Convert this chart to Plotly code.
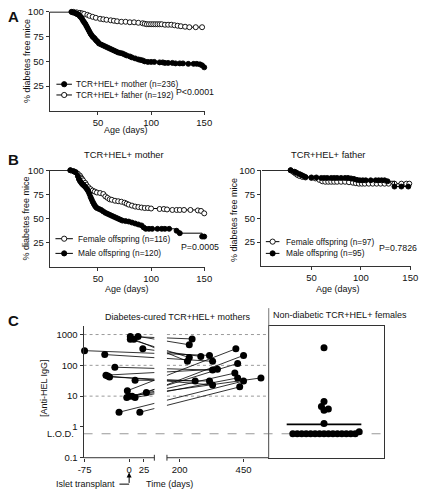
import numpy as np
import plotly.graph_objects as go

W, H = 427, 495
FONT = "Liberation Sans, Arial, Helvetica, sans-serif"
INK = "#111111"
AXC = "#333333"

# ---------------- Panel A: offspring of TCR+HEL+ mothers vs fathers (Kaplan-Meier, % diabetes free)
a_mother_days = [25, 26, 28, 29, 30, 31, 32, 33, 34, 35, 36, 37, 38, 39, 40, 41, 42, 43, 44, 45, 46, 47, 48, 49, 50, 51,
                 53, 55, 57, 59, 61, 63, 65, 67, 69, 71, 73, 75, 77, 80, 82, 85, 88, 90, 92, 94, 97,
                 100, 103, 108, 111, 113, 116, 120, 123, 127, 130, 135, 140, 143, 146, 148, 150]
a_mother_surv = [100, 99.5, 99, 98.5, 98, 97.5, 97, 95.5, 94.5, 93, 91, 89.5, 88, 86, 84, 82, 80, 78, 76.5, 75, 74, 73, 71.5, 70.5, 69.5, 68,
                 67, 66, 65, 64, 63, 62, 61, 60, 59, 58.5, 58, 57, 56, 55, 54, 53, 52, 51.5, 51, 50, 49.5,
                 49.5, 49.5, 49, 49, 48.5, 48.5, 48.5, 48, 48, 48, 47.5, 47.5, 47.5, 47, 46, 44]
a_father_days = [27, 30, 33, 35, 37, 40, 42, 45, 48, 52, 55, 58, 62, 65, 68, 72, 76, 80, 84, 88, 92, 94, 96, 98, 100,
                 102, 104, 106, 108, 110, 113, 116, 119, 122, 125, 128, 132, 136, 142, 148]
a_father_surv = [100, 99.5, 99, 98.5, 98, 97, 96, 95, 94, 93, 92.5, 92, 91.5, 91, 90.5, 90, 90, 89.5, 89.5, 89, 88.5, 88, 87.5, 87.5, 87.5,
                 87.5, 87.5, 87.5, 87.5, 87.5, 87, 87, 87, 86.5, 86, 85.5, 85, 84.5, 84.5, 84.5]

# ---------------- Panel B left: TCR+HEL+ mother, female vs male offspring
bm_female_days = [24, 27, 29, 31, 33, 34, 35, 36, 38, 39, 41, 43, 45, 47, 49, 52, 55, 57, 59, 61, 63, 66, 69, 72, 75, 77, 79, 82, 85, 88,
                  91, 94, 97, 100, 108, 112, 115, 120, 124, 127, 131, 137, 144, 147, 150]
bm_female_surv = [100, 99, 98, 96.5, 94.5, 92.5, 91, 89.5, 87, 85, 82.5, 80.5, 79, 78, 77, 76.5, 75.5, 73, 71.5, 70, 69.5, 68.5, 68, 67.5, 66.5, 65.5, 64.5, 63.5, 62.5, 62,
                  61.5, 61, 61, 60.5, 60, 60, 59.5, 59, 59, 59, 59, 59, 58.5, 58, 55.5]
bm_male_days = [24, 27, 29, 31, 32, 33, 34, 35, 36, 37, 38, 39, 40, 41, 42, 43, 44, 45, 46, 47, 48, 49, 51, 53, 55, 57, 59, 61, 63, 65,
                67, 69, 71, 73, 76, 79, 82, 85, 88, 91, 93, 95, 98, 101, 106, 110, 113, 117, 124, 127, 148, 150]
bm_male_surv = [100, 99, 98, 94, 91, 89, 87.5, 86, 85, 84, 83, 81.5, 80, 78, 75.5, 72.5, 70, 67.5, 65.5, 63.5, 62, 61, 60, 59, 57.5, 56, 55, 54, 53, 52,
                51, 50, 49, 48, 47.5, 47, 46, 45, 44, 43, 41, 39.5, 39.5, 39.5, 39.5, 39.5, 39.5, 39.5, 37.5, 35, 31.5, 31.5]

# ---------------- Panel B right: TCR+HEL+ father, female vs male offspring
bf_female_days = [29, 32, 34, 36, 38, 41, 44, 50, 54, 58, 61, 64, 67, 70, 73, 76, 80, 84, 88, 92, 95, 98, 101, 104, 108, 112, 116, 120, 124, 128,
                  134, 141, 146, 149]
bf_female_surv = [100, 98, 96.5, 95, 94, 93, 92.5, 92, 91.5, 90, 88.5, 88, 88, 88, 88, 88, 88, 88, 87.5, 87, 86.5, 86, 86, 86, 86, 86, 86, 86, 86, 86,
                  86, 86, 86, 86]
bf_male_days = [29, 33, 35, 38, 40, 42, 44, 50, 55, 60, 63, 66, 70, 73, 76, 80, 84, 87, 90, 93, 96, 99, 102, 105, 110, 115, 118, 121, 124, 127,
                134, 141, 148]
bf_male_surv = [100, 98.5, 97.5, 96, 95, 94, 93, 92.5, 92.5, 92, 92, 92, 92, 92, 92, 92, 92, 92, 91.5, 91, 90, 89.5, 89.5, 89.5, 89.5, 89.5, 89.5, 89.5, 89.5, 88.5,
                83, 83, 83]

# ---------------- Panel C: anti-HEL IgG, diabetes-cured mothers (pre / post islet transplant)
c_pre_days = [2, 15, 2, 8, 23, -75, -41, -24, -39, -33, 10, -36, -3, 29, 5, -4, 10, 0, -17, 18]
c_pre_vals = [860, 870, 700, 700, 345, 300, 224, 87, 48, 42, 33, 45, 15, 13, 10, 9, 9, 10, 3, 3]
c_post_days = [249, 238, 238, 231, 283, 317, 329, 329, 348, 261, 317, 329, 420, 450, 427, 416, 427, 518, 450, 435]
c_post_vals = [720, 465, 180, 135, 195, 210, 135, 70, 75, 31, 31, 23, 345, 210, 115, 56, 39, 39, 31, 20]
# non-diabetic TCR+HEL+ females
c_female_vals = [0.6, 0.6, 0.6, 0.6, 0.6, 0.6, 0.6, 0.6, 0.6, 0.6, 0.6, 0.6, 0.6, 0.6, 0.6,
                 0.7, 1.3, 3.5, 3.8, 4.6, 6.7, 375]
c_lod = 0.6
c_tick_days = [-75, 0, 25, 200, 450]
c_tick_text = ["-75", "0", "25", "200", "450"]
c_y_ticks = [0.1, 1, 10, 100, 1000]
c_y_text = ["0.1", "1", "10", "100", "1000"]
c_grid_vals = [10, 100, 1000]

# ---------------- broken time axis (panel C): piecewise scale
SEG1_SCALE = 0.613          # units per day before break
SEG2_SCALE = 0.264          # units per day after break
SEG2_REF_DAY, SEG2_REF_U = 200, 52
BREAK_LO, BREAK_HI = 26, 39
C_URANGE = [-47, 144]


def u_of(day):
    if day < 100:
        return day * SEG1_SCALE
    return SEG2_REF_U + (day - SEG2_REF_DAY) * SEG2_SCALE


def px(x):
    return x / W


def py(y):
    return 1 - y / H


fig = go.Figure()


def km(days, surv, filled, xa, ya):
    fig.add_trace(go.Scatter(x=[0] + list(days), y=[100] + list(surv), mode="lines",
                             line=dict(color="black", width=1, shape="hv"),
                             xaxis=xa, yaxis=ya, hoverinfo="skip"))
    fig.add_trace(go.Scatter(x=days, y=surv, mode="markers", cliponaxis=False,
                             marker=dict(size=5, color="black" if filled else "white",
                                         line=dict(color="black", width=0.9)),
                             xaxis=xa, yaxis=ya))


km(a_father_days, a_father_surv, False, "x", "y")
km(a_mother_days, a_mother_surv, True, "x", "y")
km(bm_female_days, bm_female_surv, False, "x2", "y2")
km(bm_male_days, bm_male_surv, True, "x2", "y2")
km(bf_female_days, bf_female_surv, False, "x3", "y3")
km(bf_male_days, bf_male_surv, True, "x3", "y3")

# panel C pairs
seg_x, seg_y = [], []
for d1, v1, d2, v2 in zip(c_pre_days, c_pre_vals, c_post_days, c_post_vals):
    u1, u2 = u_of(d1), u_of(d2)
    l1, l2 = np.log10(v1), np.log10(v2)

    def at(u):
        return 10 ** (l1 + (l2 - l1) * (u - u1) / (u2 - u1))
    seg_x += [u1, BREAK_LO, None, BREAK_HI, u2, None]
    seg_y += [v1, at(BREAK_LO), None, at(BREAK_HI), v2, None]
fig.add_trace(go.Scatter(x=seg_x, y=seg_y, mode="lines", line=dict(color="black", width=0.8),
                         xaxis="x4", yaxis="y4", hoverinfo="skip"))
fig.add_trace(go.Scatter(x=[u_of(d) for d in c_pre_days] + [u_of(d) for d in c_post_days],
                         y=c_pre_vals + c_post_vals, mode="markers", cliponaxis=False,
                         marker=dict(size=7, color="black"), xaxis="x4", yaxis="y4"))

# panel C right: swarm of females
C_TOP, C_BOT = 327, 462
C_YRANGE = [-1, 3.286]
PX_PER_DEC = (C_BOT - C_TOP) / (C_YRANGE[1] - C_YRANGE[0])
SWARM_D = 4.6
SWARM_CENTER = 57
MEAN_HALF = 38.5


def swarm(vals, d):
    ys = np.log10(vals) * PX_PER_DEC
    order = np.argsort(vals, kind="stable")
    placed = []
    xs = np.zeros(len(vals))
    for i in order:
        y = ys[i]
        cands = [0.0]
        for (qx, qy) in placed:
            dy = abs(qy - y)
            if dy < d:
                dx = np.sqrt(d * d - dy * dy)
                cands += [qx + dx + 1e-6, qx - dx - 1e-6]
        cands.sort(key=lambda c: (abs(c), -c))
        for c in cands:
            if all((c - qx) ** 2 + (y - qy) ** 2 >= d * d - 1e-6 for qx, qy in placed):
                xs[i] = c
                placed.append((c, y))
                break
    return xs


offs = swarm(np.array(c_female_vals), SWARM_D)
gmean = float(10 ** np.mean(np.log10(c_female_vals)))
fig.add_trace(go.Scatter(x=[SWARM_CENTER - MEAN_HALF, SWARM_CENTER + MEAN_HALF], y=[gmean, gmean],
                         mode="lines", line=dict(color="black", width=1.6), xaxis="x5", yaxis="y5"))
fig.add_trace(go.Scatter(x=SWARM_CENTER + offs, y=c_female_vals, mode="markers", cliponaxis=False,
                         marker=dict(size=7, color="black"), xaxis="x5", yaxis="y5"))

base = dict(showline=True, linecolor=AXC, linewidth=1, ticks="outside", ticklen=3, tickwidth=1,
            tickcolor=AXC, tickfont=dict(family=FONT, size=9.5, color=INK), showgrid=False,
            zeroline=False, fixedrange=True)

fig.update_layout(
    width=W, height=H, margin=dict(l=0, r=0, t=0, b=0),
    paper_bgcolor="white", plot_bgcolor="white", showlegend=False,
    xaxis=dict(base, domain=[px(45), px(205)], range=[4.5, 150.5], tickvals=[50, 100, 150], anchor="y"),
    yaxis=dict(base, domain=[py(107.3), py(6)], range=[0, 100], tickvals=[25, 50, 75, 100], anchor="x"),
    xaxis2=dict(base, domain=[px(45), px(205)], range=[4.5, 150.5], tickvals=[50, 100, 150], anchor="y2"),
    yaxis2=dict(base, domain=[py(267), py(168)], range=[0, 100], tickvals=[25, 50, 75, 100], anchor="x2"),
    xaxis3=dict(base, domain=[px(263), px(418)], range=[-1, 151], tickvals=[50, 100, 150], anchor="y3"),
    yaxis3=dict(base, domain=[py(266), py(168)], range=[0, 100], tickvals=[25, 50, 75, 100], anchor="x3"),
    xaxis4=dict(base, showline=False, domain=[px(80), px(271)], range=C_URANGE,
                tickvals=[u_of(d) for d in c_tick_days], ticktext=c_tick_text, anchor="y4"),
    yaxis4=dict(base, type="log", domain=[py(C_BOT), py(C_TOP)], range=C_YRANGE,
                tickvals=c_y_ticks, ticktext=c_y_text, anchor="x4"),
    xaxis5=dict(domain=[px(271), px(390)], range=[0, 119], showline=True, mirror=True, linecolor=AXC,
                linewidth=1, showticklabels=False, ticks="", showgrid=False, zeroline=False, anchor="y5",
                fixedrange=True),
    yaxis5=dict(type="log", domain=[py(C_BOT), py(C_TOP)], range=C_YRANGE, showline=True, mirror=True,
                linecolor=AXC, linewidth=1, showticklabels=False, ticks="", showgrid=False,
                zeroline=False, anchor="x5", fixedrange=True),
)

# broken x-axis line for panel C
for a, b in [(C_URANGE[0], BREAK_LO), (BREAK_HI, C_URANGE[1])]:
    fig.add_shape(type="line", xref="x4", yref="y4 domain", x0=a, x1=b, y0=0, y1=0,
                  line=dict(color=AXC, width=1))
for u in (BREAK_LO, BREAK_HI):
    fig.add_shape(type="line", xref="x4", yref="paper", x0=u, x1=u, y0=py(C_BOT - 3), y1=py(C_BOT + 3),
                  line=dict(color=AXC, width=1))
# dotted gridlines
for g in c_grid_vals:
    for a, b in [(C_URANGE[0], BREAK_LO), (BREAK_HI, C_URANGE[1])]:
        fig.add_shape(type="line", xref="x4", yref="y4", x0=a, x1=b, y0=g, y1=g,
                      line=dict(color="#9a9a9a", width=1, dash="dot"), layer="below")
# limit of detection
fig.add_shape(type="line", xref="paper", yref="y4", x0=px(80), x1=px(388), y0=c_lod, y1=c_lod,
              line=dict(color="#999999", width=1, dash="dash"), layer="below")
# divider between C sub-panels
fig.add_shape(type="line", xref="paper", yref="paper", x0=px(271), x1=px(271), y0=py(309), y1=py(C_BOT),
              line=dict(color="#777777", width=1))


def text(s, x, y, size=9.3, xanchor="center", angle=0, bold=False):
    fig.add_annotation(text=("<b>%s</b>" % s if bold else s), xref="paper", yref="paper", x=px(x), y=py(y),
                       xanchor=xanchor, yanchor="middle", showarrow=False, textangle=angle,
                       font=dict(family=FONT, size=size, color=INK))


def key(xc, y, half, filled):
    fig.add_shape(type="line", xref="paper", yref="paper", x0=px(xc - half), x1=px(xc + half), y0=py(y), y1=py(y),
                  line=dict(color="black", width=1))
    fig.add_shape(type="circle", xref="paper", yref="paper", xsizemode="pixel", ysizemode="pixel",
                  xanchor=px(xc), yanchor=py(y), x0=-2.6, x1=2.6, y0=-2.6, y1=2.6,
                  fillcolor="black" if filled else "white", line=dict(color="black", width=0.9))


# panel letters
text("A", 0, 11, size=15, xanchor="left", bold=True)
text("B", 0, 157, size=15, xanchor="left", bold=True)
text("C", 0, 322, size=15, xanchor="left", bold=True)

# panel A texts
text("% diabetes free mice", 21, 56, angle=-90, size=9)
text("Age (days)", 124, 127, size=9)
key(60, 80, 8, True)
key(60, 91, 8, False)
text("TCR+HEL+ mother (n=236)", 70, 80, size=8.3, xanchor="left")
text("TCR+HEL+ father (n=192)", 70, 91, size=8.3, xanchor="left")
text("P&lt;0.0001", 173, 88, size=8.8, xanchor="left")

# panel B texts
text("TCR+HEL+ mother", 122, 152, size=9.3)
text("TCR+HEL+ father", 332, 152, size=9.3)
text("% diabetes free mice", 21, 217, angle=-90, size=9)
text("% diabetes free mice", 235, 219, angle=-90, size=9)
text("Age (days)", 125, 289, size=9)
text("Age (days)", 342, 289, size=9)
key(60, 238, 9, False)
key(60, 253, 9, True)
text("Female offspring (n=116)", 72, 238, size=8.3, xanchor="left")
text("Male offspring (n=120)", 72, 253, size=8.3, xanchor="left")
text("P=0.0005", 178, 246, size=8.8, xanchor="left")
key(275, 241, 7, False)
key(275, 253, 7, True)
text("Female offspring (n=97)", 287, 241, size=8.3, xanchor="left")
text("Male offspring (n=95)", 287, 253, size=8.3, xanchor="left")
text("P=0.7826", 426, 247, size=8.8, xanchor="right")

# panel C texts
text("Diabetes-cured TCR+HEL+ mothers", 177, 318, size=9)
text("Non-diabetic TCR+HEL+ females", 344, 316, size=9)
text("[Anti-HEL IgG]", 40, 391, angle=-90, size=9)
text("L.O.D.", 72, 438, size=9.3, xanchor="right")
text("Islet transplant", 115, 489, size=9, xanchor="right")
text("Time (days)", 169, 489, size=9)
fig.add_shape(type="line", xref="paper", yref="paper", x0=px(117), x1=px(127), y0=py(489), y1=py(489),
              line=dict(color="black", width=1))
fig.add_annotation(xref="x4", yref="paper", x=u_of(0), y=py(477), ax=0, ay=12, text="", showarrow=True,
                   arrowhead=2, arrowsize=1, arrowwidth=1, arrowcolor="black")

fig.write_html("out.html", config={"displayModeBar": False, "staticPlot": True},
               post_script="document.body.style.margin='0px';document.body.style.overflow='hidden';")
